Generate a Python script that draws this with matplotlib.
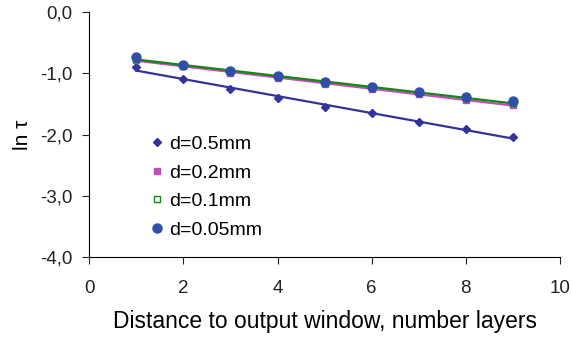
import numpy as np
import matplotlib
matplotlib.use("Agg")
import matplotlib.pyplot as plt
from matplotlib.ticker import FuncFormatter

plt.rcParams['font.family'] = ['Liberation Sans', 'DejaVu Sans']

layers = [1, 2, 3, 4, 5, 6, 7, 8, 9]
d05 = [-0.90, -1.10, -1.25, -1.40, -1.545, -1.65, -1.80, -1.915, -2.035]
d02 = [-0.78, -0.88, -0.99, -1.07, -1.17, -1.26, -1.34, -1.43, -1.52]
d01 = [-0.76, -0.86, -0.96, -1.05, -1.14, -1.23, -1.31, -1.40, -1.48]
d005 = [-0.736, -0.862, -0.96, -1.04, -1.135, -1.217, -1.30, -1.39, -1.46]

fig = plt.figure(figsize=(5.72, 3.38), dpi=100)
ax = fig.add_axes([0.156, 0.24, 0.823, 0.724])

x = np.array(layers)
series = [
    ("d=0.5mm", d05, "#333399", "D", 4.5, "#333399"),
    ("d=0.2mm", d02, "#C04CB4", "s", 5, "#C04CB4"),
    ("d=0.1mm", d01, "#118811", "s", 4, "none"),
    ("d=0.05mm", d005, "#3050A8", "o", 6.5, "#3050A8"),
]

# trendlines first
for name, y, col, m, ms, fc in series:
    if name == "d=0.05mm":
        continue
    k, b = np.polyfit(x, y, 1)
    ax.plot(x, k * x + b, color=col, lw=1.6, zorder=2)

for name, y, col, m, ms, fc in series:
    ax.plot(x, y, ls="none", marker=m, ms=ms, color=col, mfc=fc,
            mec=col, mew=1.0, label=name, zorder=3)

ax.set_xlim(0, 10)
ax.set_ylim(-4, 0)
ax.set_xticks([0, 2, 4, 6, 8, 10])
ax.set_yticks([0, -1, -2, -3, -4])
ax.yaxis.set_major_formatter(FuncFormatter(lambda v, p: ("%.1f" % v).replace(".", ",")))
ax.spines['top'].set_visible(False)
ax.spines['right'].set_visible(False)
ax.tick_params(direction='out', length=5, labelsize=13.5, colors='#222222')
ax.tick_params(axis='x', pad=12)
ax.tick_params(axis='y', pad=7)
ax.set_xlabel("Distance to output window, number layers", fontsize=16.5, labelpad=9)
ax.set_ylabel("ln τ", fontsize=15, labelpad=6)

ax.legend(loc="upper left", bbox_to_anchor=(0.104, 0.543), frameon=False,
          fontsize=14, handlelength=0.7, handletextpad=0.3, labelspacing=0.56,
          borderaxespad=0.2)

fig.savefig("out.png", dpi=100)
